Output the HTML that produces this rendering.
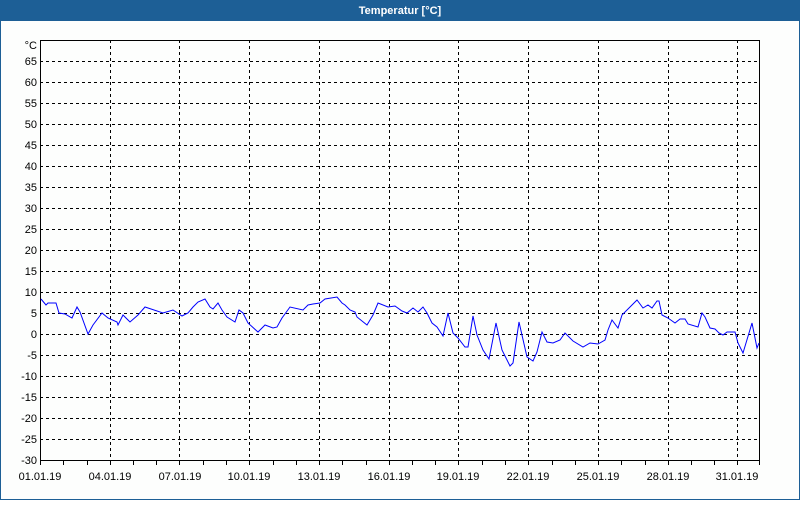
<!DOCTYPE html>
<html><head><meta charset="utf-8"><style>
html,body{margin:0;padding:0;background:#fff;}
body{width:800px;height:500px;overflow:hidden;font-family:"Liberation Sans",sans-serif;}
</style></head><body>
<svg width="800" height="500" xmlns="http://www.w3.org/2000/svg" font-family="Liberation Sans, sans-serif">
<rect x="0" y="0" width="800" height="500" fill="#1d5f96"/>
<rect x="1" y="21" width="798" height="478" fill="#fdfefd"/>
<text x="400" y="14" fill="#fff" font-size="11" font-weight="bold" text-anchor="middle">Temperatur [°C]</text>
<g stroke="#000" stroke-width="1" stroke-dasharray="3,3" shape-rendering="crispEdges">
<line x1="40" x2="760" y1="61.5" y2="61.5"/><line x1="40" x2="760" y1="82.5" y2="82.5"/><line x1="40" x2="760" y1="103.5" y2="103.5"/><line x1="40" x2="760" y1="124.5" y2="124.5"/><line x1="40" x2="760" y1="145.5" y2="145.5"/><line x1="40" x2="760" y1="166.5" y2="166.5"/><line x1="40" x2="760" y1="187.5" y2="187.5"/><line x1="40" x2="760" y1="208.5" y2="208.5"/><line x1="40" x2="760" y1="229.5" y2="229.5"/><line x1="40" x2="760" y1="250.5" y2="250.5"/><line x1="40" x2="760" y1="271.5" y2="271.5"/><line x1="40" x2="760" y1="292.5" y2="292.5"/><line x1="40" x2="760" y1="313.5" y2="313.5"/><line x1="40" x2="760" y1="334.5" y2="334.5"/><line x1="40" x2="760" y1="355.5" y2="355.5"/><line x1="40" x2="760" y1="376.5" y2="376.5"/><line x1="40" x2="760" y1="397.5" y2="397.5"/><line x1="40" x2="760" y1="418.5" y2="418.5"/><line x1="40" x2="760" y1="439.5" y2="439.5"/>
<line x1="110.5" x2="110.5" y1="40" y2="460"/><line x1="179.5" x2="179.5" y1="40" y2="460"/><line x1="249.5" x2="249.5" y1="40" y2="460"/><line x1="319.5" x2="319.5" y1="40" y2="460"/><line x1="389.5" x2="389.5" y1="40" y2="460"/><line x1="458.5" x2="458.5" y1="40" y2="460"/><line x1="528.5" x2="528.5" y1="40" y2="460"/><line x1="598.5" x2="598.5" y1="40" y2="460"/><line x1="668.5" x2="668.5" y1="40" y2="460"/><line x1="737.5" x2="737.5" y1="40" y2="460"/>
</g>
<rect x="40.5" y="40.5" width="719" height="420" fill="none" stroke="#000" shape-rendering="crispEdges"/>
<g stroke="#000" shape-rendering="crispEdges">
<path d="M40.5 460v5M63.5 460v5M87.5 460v5M110.5 460v5M133.5 460v5M156.5 460v5M179.5 460v5M203.5 460v5M226.5 460v5M249.5 460v5M273.5 460v5M296.5 460v5M319.5 460v5M342.5 460v5M366.5 460v5M389.5 460v5M412.5 460v5M435.5 460v5M458.5 460v5M482.5 460v5M505.5 460v5M528.5 460v5M552.5 460v5M575.5 460v5M598.5 460v5M621.5 460v5M645.5 460v5M668.5 460v5M691.5 460v5M714.5 460v5M737.5 460v5M759.5 460v5"/>
</g>
<g font-size="11" fill="#000" text-anchor="end">
<text x="37" y="49">°C</text>
<text x="37" y="65">65</text><text x="37" y="86">60</text><text x="37" y="107">55</text><text x="37" y="128">50</text><text x="37" y="149">45</text><text x="37" y="170">40</text><text x="37" y="191">35</text><text x="37" y="212">30</text><text x="37" y="233">25</text><text x="37" y="254">20</text><text x="37" y="275">15</text><text x="37" y="296">10</text><text x="37" y="317">5</text><text x="37" y="338">0</text><text x="37" y="359">-5</text><text x="37" y="380">-10</text><text x="37" y="401">-15</text><text x="37" y="422">-20</text><text x="37" y="443">-25</text><text x="37" y="464">-30</text>
</g>
<g font-size="11" fill="#000" text-anchor="middle">
<text x="40" y="480">01.01.19</text><text x="110" y="480">04.01.19</text><text x="180" y="480">07.01.19</text><text x="249" y="480">10.01.19</text><text x="319" y="480">13.01.19</text><text x="389" y="480">16.01.19</text><text x="458" y="480">19.01.19</text><text x="528" y="480">22.01.19</text><text x="598" y="480">25.01.19</text><text x="668" y="480">28.01.19</text><text x="737" y="480">31.01.19</text>
</g>
<polyline fill="none" stroke="#0000ff" stroke-width="1" points="41,299 46,305 48,303 56,303 59,313 65,314 72,318 77,307 80,312 88,334 93,325 102,313 108,318 117,322 118,325 123,315 130,322 138,315 145,307 163,313 173,310 182,316 188,313 193,307 198,302 205,299 210,307 213,309 218,303 222,310 227,317 235,322 239,310 243,313 248,323 258,332 265,325 273,328 277,327 282,318 290,307 303,310 308,305 313,304 320,303 325,299 337,297 342,303 345,305 350,310 355,312 357,317 367,325 373,315 378,303 388,307 395,306 402,311 407,313 413,308 418,312 423,307 427,313 432,323 437,327 443,336 448,313 453,333 458,338 465,347 468,347 473,316 477,335 483,350 489,359 496,323 502,350 510,366 513,363 519,322 527,357 533,361 537,352 542,332 547,342 553,343 560,340 565,333 573,341 583,347 590,343 598,344 605,340 608,330 612,320 618,328 622,315 627,310 632,305 637,300 643,308 648,305 652,308 657,301 659,301 662,315 668,318 675,323 680,319 685,319 688,324 698,327 702,313 705,317 710,328 715,329 719,333 723,335 727,332 735,332 738,343 743,353 752,323 757,348 759,343"/>
</svg>
</body></html>
